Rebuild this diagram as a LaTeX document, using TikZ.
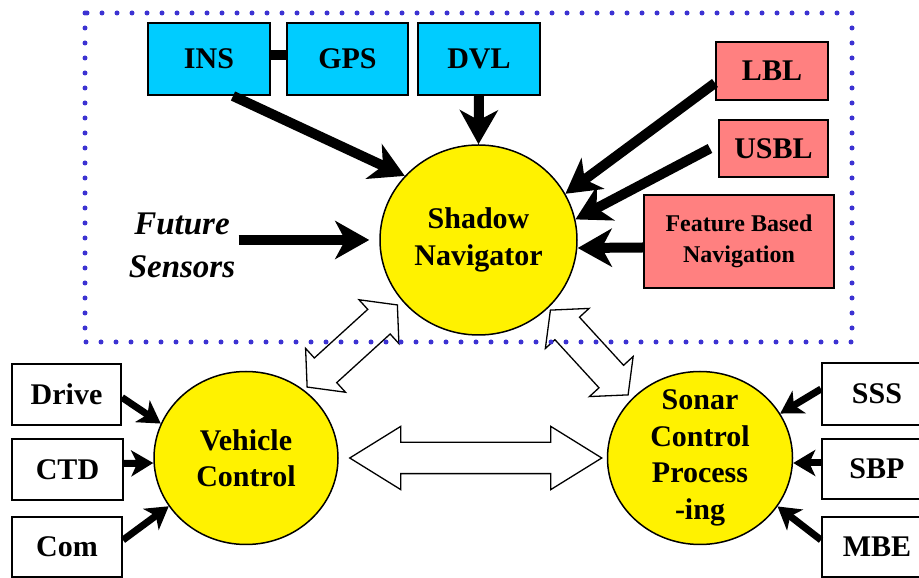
\documentclass[tikz,border=0pt]{standalone}
\usepackage{fontspec}
\setmainfont{Liberation Serif}
\usetikzlibrary{arrows.meta,calc,shapes.geometric,shapes.arrows}
\definecolor{navcyan}{RGB}{0,204,255}
\definecolor{navsalmon}{RGB}{255,128,128}
\definecolor{navdots}{RGB}{60,50,210}
\tikzset{
    >=Stealth,
    nav/.style={
        sensor/.append style={draw,line width=2pt,fill=navcyan,minimum width=122pt,minimum height=72pt,font=\fontsize{30}{36}\selectfont\bfseries},
        acou/.append style={draw,line width=2pt,fill=navsalmon,minimum height=57pt,font=\fontsize{30}{36}\selectfont\bfseries},
        dev/.append style={draw,line width=2pt,fill=white,minimum width=110pt,minimum height=61pt,font=\fontsize{30}{36}\selectfont\bfseries},
        unit/.append style={draw,line width=1.5pt,ellipse,fill=yellow,align=center,inner sep=0pt,font=\fontsize{30}{36.5}\selectfont\bfseries},
        feed/.append style={line width=10pt,-{Stealth[length=34pt,width=38pt,inset=10pt]}},
        tap/.append style={line width=7pt,-{Stealth[length=22pt,width=26pt,inset=6pt]}},
        link/.append style={draw,line width=1.3pt,double arrow,inner sep=0pt,inner ysep=16pt,double arrow head extend=13pt,double arrow tip angle=100},
        frame/.append style={navdots,line width=5pt,line cap=round,dash pattern=on 0pt off 15pt}
    }
}
\begin{document}
\begin{tikzpicture}[nav,x=1pt,y=1pt]
    \useasboundingbox (0,0) rectangle (919,578);
    \clip (0,0) rectangle (919,578);

    \node[sensor] (ins) at (209,519) {INS};
    \node[sensor,minimum width=121pt] (gps) at (347.5,519) {GPS};
    \node[sensor] (dvl) at (479,519) {DVL};
    \node[acou,minimum width=112pt,minimum height=58pt] (lbl) at (772,507) {LBL};
    \node[acou,minimum width=109pt] (usbl) at (773.5,429.5) {USBL};
    \node[acou,minimum width=190pt,minimum height=93pt,align=center,font=\fontsize{24}{31}\selectfont\bfseries] (fbn) at (739,336.5) {Feature Based\\Navigation};
    \node[font=\fontsize{33}{43}\selectfont\bfseries\itshape,align=center] (fut) at (182,332.5) {Future\\Sensors};

    \node[unit,minimum width=197pt,minimum height=190pt] (sn) at (478.5,338) {Shadow\\Navigator};
    \node[unit,minimum width=184pt,minimum height=173pt] (vc) at (246,120) {Vehicle\\Control};
    \node[unit,minimum width=185pt,minimum height=173pt,inner ysep=-8pt] (sc) at (700,120) {Sonar\\Control\\Process\\-ing};

    \node[dev,minimum width=109pt] (drv) at (66.5,183.5) {Drive};
    \node[dev,minimum width=111pt] (ctd) at (67.5,108.5) {CTD};
    \node[dev,minimum height=60pt] (com) at (67,31) {Com};
    \node[dev,minimum height=62pt] (sss) at (877,184) {SSS};
    \node[dev,minimum height=60pt] (sbp) at (877,109) {SBP};
    \node[dev,minimum height=60pt] (mbe) at (877,31) {MBE};

    \draw[line width=10pt] ([yshift=4pt]ins.east) -- ([yshift=4pt]gps.west);
    \draw[feed] ([xshift=24pt]ins.south) -- (sn.139);
    \draw[feed] (dvl.south) -- (sn.north);
    \draw[feed] ([yshift=-12pt]lbl.west) -- (sn.28);
    \draw[feed] ([xshift=-8pt]usbl.west) -- (sn.12);
    \draw[feed] ([yshift=-6pt]fbn.west) -- ([yshift=-8pt]sn.east);
    \draw[feed] (fut.east |- sn.west) -- ([xshift=-10pt]sn.west);

    \draw[tap] ([yshift=-3pt]drv.east) -- (vc.158);
    \draw[tap] ([yshift=6pt]ctd.east) -- ([yshift=-5pt]vc.west);
    \draw[tap] ([yshift=7pt]com.east) -- (vc.212);
    \draw[tap] ([yshift=5pt]sss.west) -- (sc.29);
    \draw[tap] ([yshift=6pt]sbp.west) -- ([yshift=-5pt]sc.east);
    \draw[tap] ([yshift=7pt]mbe.west) -- (sc.-32);

    \node[link,inner ysep=15pt,double arrow tip angle=63.6,double arrow head extend=16pt,minimum height=252pt] (vs) at ($(vc.east)!0.5!(sc.west)+(3,0)$) {};
    \node[link,rotate=42.3,minimum height=122pt] (vn) at ($(vc)!0.5!(sn)+(-10,3)$) {};
    \node[link,rotate=-47.5,minimum height=115pt] (ns) at ($(sn)!0.5!(sc)+(0,-3.5)$) {};

    \draw[frame] (85,565) rectangle (852,236);
\end{tikzpicture}
\end{document}
